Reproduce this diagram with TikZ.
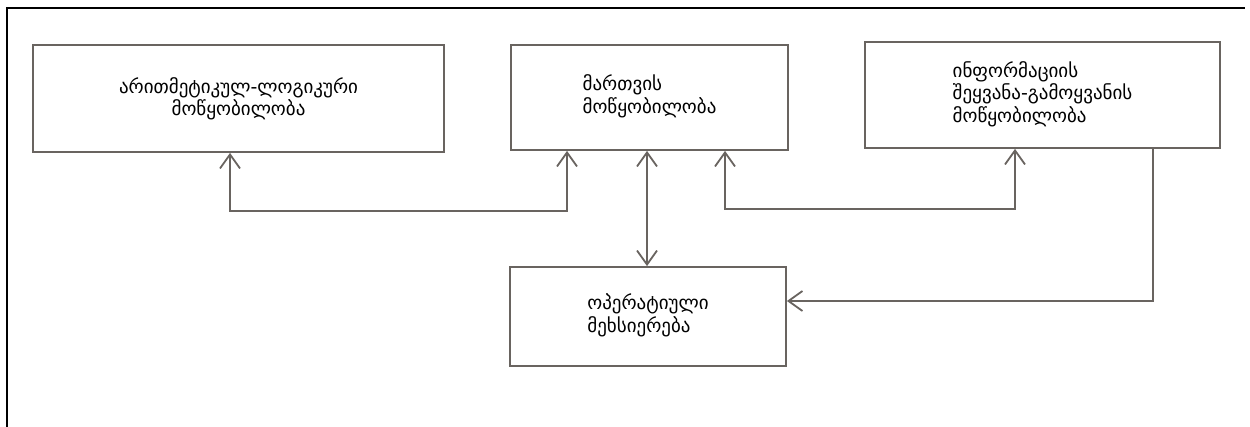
\documentclass[tikz,border=0pt]{standalone}
\usepackage{fontspec}
\setmainfont{DejaVu Sans}
\usetikzlibrary{arrows.meta}
\definecolor{linegray}{RGB}{105,100,96}
\begin{document}
\begin{tikzpicture}[x=1pt,y=-1pt,
  box/.style={draw=linegray, line width=1.8pt, inner sep=0pt, font=\fontsize{19}{22}\selectfont},
  conn/.style={draw=linegray, line width=1.8pt},
  tip/.tip={Straight Barb[length=14pt,width=20pt,line width=1.8pt]},
  frame/.style={draw=black, line width=1.3pt}
]
\fill[white] (0,0) rectangle (1250,427);
\useasboundingbox (0,0) rectangle (1250,427);
\coordinate (f1) at (7,427);
\coordinate (f2) at (7,8);
\coordinate (f3) at (1245,8);
\draw[frame] (f1) -- (f2) -- (f3);

\node[box, minimum width=411pt, minimum height=107pt, align=center] (A) at (238.5,98.5)
  {არითმეტიკულ-ლოგიკური\\მოწყობილობა};
\node[box, minimum width=277pt, minimum height=105pt] (B) at (649.5,97.5)
  {\begin{tabular}{@{}l@{}}მართვის\\მოწყობილობა\end{tabular}};
\node[box, minimum width=355pt, minimum height=106pt] (C) at (1042.5,95)
  {\begin{tabular}{@{}l@{}}ინფორმაციის\\შეყვანა-გამოყვანის\\მოწყობილობა\end{tabular}};
\node[box, minimum width=276pt, minimum height=99pt] (D) at (648,316.5)
  {\begin{tabular}{@{}l@{}}ოპერატიული\\მეხსიერება\end{tabular}};

\coordinate (x1) at (230,0);
\coordinate (x2) at (567,0);
\coordinate (x3) at (647,0);
\coordinate (x4) at (725,0);
\coordinate (x5) at (1015,0);
\coordinate (h4) at (1153,301);

\draw[conn, tip-tip] (A.south -| x1) -- ++(0,58) -| (B.south -| x2);
\draw[conn, tip-tip] (B.south -| x3) -- (D.north -| x3);
\draw[conn, tip-tip] (B.south -| x4) -- ++(0,58) -| (C.south -| x5);
\draw[conn, -tip] (C.south -| h4) -- (h4) -- (D.east |- h4);
\end{tikzpicture}
\end{document}
